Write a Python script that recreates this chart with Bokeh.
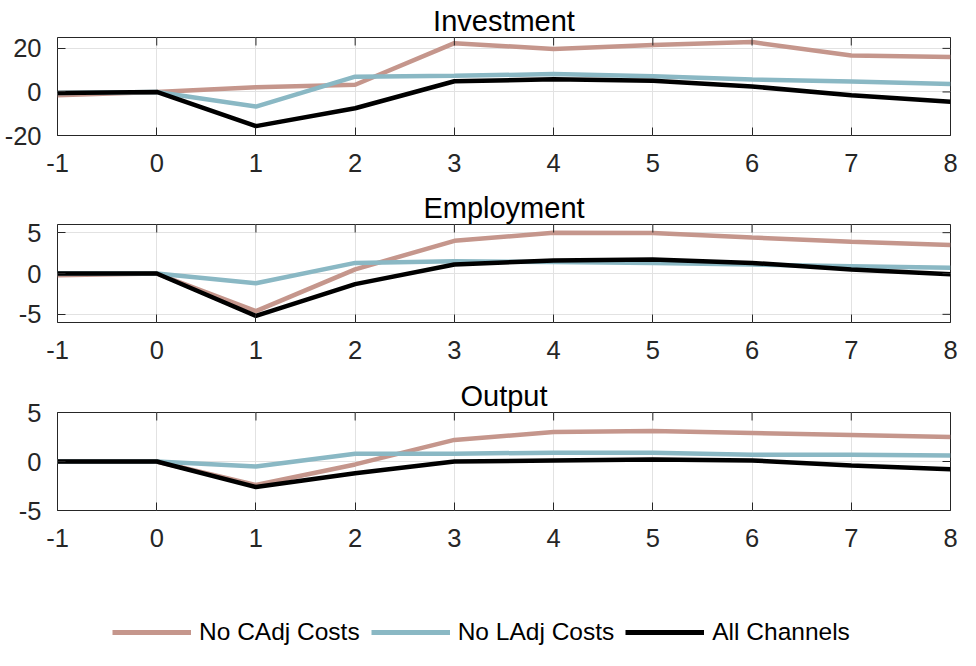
import math
from bokeh.plotting import figure
from bokeh.layouts import column
from bokeh.models import (FixedTicker, Legend, LegendItem, Range1d)
from bokeh.embed import file_html
from bokeh.resources import INLINE

# ---------------- data ----------------
horizon = [-1, 0, 1, 2, 3, 4, 5, 6, 7, 8]

inv_no_cadj = [-1.5, 0, 2.2, 3.3, 22.4, 19.7, 21.6, 22.9, 16.7, 16.1]
inv_no_ladj = [-0.5, 0, -6.7, 7.0, 7.4, 8.2, 7.2, 5.7, 4.8, 3.6]
inv_all = [-0.5, 0, -15.7, -7.5, 4.9, 5.8, 5.1, 2.5, -1.5, -4.5]

emp_no_cadj = [-0.2, 0, -4.6, 0.5, 4.0, 5.0, 4.95, 4.4, 3.9, 3.5]
emp_no_ladj = [0, 0, -1.2, 1.3, 1.5, 1.4, 1.3, 1.1, 0.9, 0.7]
emp_all = [0, 0, -5.2, -1.3, 1.1, 1.6, 1.7, 1.3, 0.5, -0.1]

out_no_cadj = [0, 0, -2.4, -0.3, 2.2, 3.0, 3.1, 2.9, 2.7, 2.5]
out_no_ladj = [0, 0, -0.5, 0.8, 0.8, 0.9, 0.9, 0.7, 0.7, 0.6]
out_all = [0, 0, -2.6, -1.2, 0.0, 0.1, 0.2, 0.1, -0.4, -0.8]

titles = ["Investment", "Employment", "Output"]
y_ranges = [(-20, 25), (-6, 6), (-5, 5)]
y_ticks = [[-20, 0, 20], [-5, 0, 5], [-5, 0, 5]]
x_ticks = [-1, 0, 1, 2, 3, 4, 5, 6, 7, 8]
x_range = (-1, 8)
series_names = ["No CAdj Costs", "No LAdj Costs", "All Channels"]
panels = [
    [inv_no_cadj, inv_no_ladj, inv_all],
    [emp_no_cadj, emp_no_ladj, emp_all],
    [out_no_cadj, out_no_ladj, out_all],
]

# ---------------- style ----------------
FONT = "Liberation Sans"
COLORS = ["#C5968C", "#8AB8C4", "#000000"]
LW = 4.5
AX = "#262626"
GRID = "#e2e2e2"
TICK_FS = "25.5px"


def hyphen_labels(ticks):
    return {t: str(t) for t in ticks if t < 0}


# (top border, bottom border) of each 188px-high panel
borders = [(37, 53), (36, 54), (36, 54)]

figs = []
for i in range(3):
    top, bottom = borders[i]
    p = figure(width=960, height=188, output_backend="svg", toolbar_location=None,
               x_range=Range1d(*x_range), y_range=Range1d(*y_ranges[i]),
               min_border_left=57, min_border_right=10,
               min_border_top=top, min_border_bottom=bottom)
    p.outline_line_color = AX
    p.outline_line_width = 1
    p.background_fill_color = "white"
    p.border_fill_color = "white"

    p.title.text = titles[i]
    p.title.align = "center"
    p.title.text_font = FONT
    p.title.text_font_size = "29px"
    p.title.text_font_style = "normal"
    p.title.text_color = "#000000"
    p.title.text_line_height = 0.8
    p.title.standoff = 1

    xt = FixedTicker(ticks=x_ticks)
    yt = FixedTicker(ticks=y_ticks[i])
    p.xaxis.ticker = xt
    p.yaxis.ticker = yt
    for ax in (p.xaxis[0], p.yaxis[0]):
        ax.major_tick_in = 8
        ax.major_tick_out = 0
        ax.minor_tick_in = 0
        ax.minor_tick_out = 0
        ax.major_tick_line_color = AX
        ax.axis_line_color = None
        ax.major_label_text_font = FONT
        ax.major_label_text_font_size = TICK_FS
        ax.major_label_text_color = AX
    p.xaxis.major_label_overrides = hyphen_labels(x_ticks)
    p.yaxis.major_label_overrides = hyphen_labels(y_ticks[i])
    p.xaxis.major_label_standoff = 18
    p.yaxis.major_label_standoff = 16

    p.xgrid.ticker = xt
    p.ygrid.ticker = yt
    p.xgrid.grid_line_color = GRID
    p.ygrid.grid_line_color = GRID
    p.xgrid.grid_line_width = 1
    p.ygrid.grid_line_width = 1

    for vals, c in zip(panels[i], COLORS):
        p.line(horizon, vals, line_color=c, line_width=LW)

    # mirrored inward ticks on the top and right edges of the box
    p.scatter(x_ticks, [y_ranges[i][1]] * len(x_ticks), marker="dash", size=16,
              angle=math.pi / 2, line_color=AX, line_width=1)
    p.scatter([x_range[1]] * len(y_ticks[i]), y_ticks[i], marker="dash", size=16,
              line_color=AX, line_width=1)
    figs.append(p)

# ---------------- legend ----------------
lf = figure(width=960, height=86, output_backend="svg", toolbar_location=None,
            x_range=Range1d(0, 1), y_range=Range1d(0, 1),
            x_axis_type=None, y_axis_type=None, min_border=0)
lf.grid.visible = False
lf.outline_line_color = None
items = []
for name, c in zip(series_names, COLORS):
    r = lf.line([-10, -9], [-10, -10], line_color=c, line_width=LW + 0.5)
    items.append(LegendItem(label=name, renderers=[r]))
leg = Legend(items=items, orientation="horizontal", location=(55, 4),
             label_text_font=FONT, label_text_font_size="24.5px", label_text_color="#000000",
             glyph_width=79, glyph_height=20, label_standoff=8, spacing=11,
             padding=0, margin=0, border_line_color=None, background_fill_alpha=0)
lf.add_layout(leg, "center")

layout = column(*figs, lf)
open("out.html", "w").write(file_html(layout, INLINE))
